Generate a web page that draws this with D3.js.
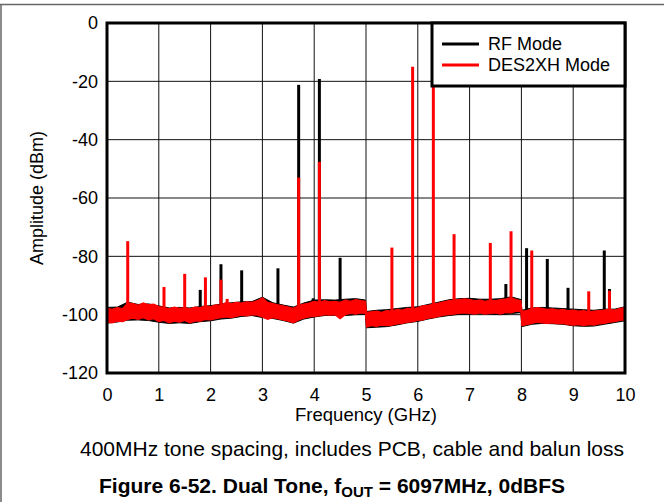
<!DOCTYPE html>
<html>
<head>
<meta charset="utf-8">
<script src="https://d3js.org/d3.v7.min.js"></script>
<style>
  body { margin: 0; background: #fff; }
  svg { display: block; font-family: "Liberation Sans", Arial, sans-serif; }
</style>
</head>
<body>
<svg id="chart" width="664" height="502"></svg>
<script>
// tick labels
var xTicks = [0, 1, 2, 3, 4, 5, 6, 7, 8, 9, 10];
var yTicks = [0, -20, -40, -60, -80, -100, -120];

// noise floor, red trace (DES2XH Mode) upper / lower edge of the band
var redFloorFreq = [0, 0.1, 0.2, 0.3, 0.4, 0.5, 0.6, 0.7, 0.8, 0.9,
    1.0, 1.1, 1.2, 1.3, 1.4, 1.5, 1.6, 1.7, 1.8, 1.9,
    2.0, 2.1, 2.2, 2.3, 2.4, 2.5, 2.6, 2.7, 2.8, 2.9,
    3.0, 3.1, 3.2, 3.3, 3.4, 3.5, 3.6, 3.7, 3.8, 3.9,
    4.0, 4.1, 4.2, 4.3, 4.4, 4.5, 4.6, 4.7, 4.8, 4.9, 4.99,
    5.01, 5.1, 5.2, 5.3, 5.4, 5.5, 5.6, 5.7, 5.8, 5.9,
    6.0, 6.1, 6.2, 6.3, 6.4, 6.5, 6.6, 6.7, 6.8, 6.9,
    7.0, 7.1, 7.2, 7.3, 7.4, 7.5, 7.6, 7.7, 7.8, 7.9, 7.99,
    8.01, 8.1, 8.2, 8.3, 8.4, 8.5, 8.6, 8.7, 8.8, 8.9,
    9.0, 9.1, 9.2, 9.3, 9.4, 9.5, 9.6, 9.7, 9.8, 9.9, 10.0];
var redFloorHigh = [-97.8, -98.2, -97.6, -97.9, -96.0, -96.2, -96.8, -96.0, -96.6, -96.4,
    -97.2, -97.6, -98.0, -97.4, -97.8, -97.6, -98.0, -97.4, -97.6, -97.0,
    -97.2, -96.6, -96.8, -95.8, -96.2, -95.8, -96.0, -95.6, -95.8, -95.2,
    -94.2, -95.8, -96.2, -96.6, -97.0, -97.4, -97.8, -96.8, -96.4, -96.0,
    -95.4, -95.8, -95.2, -95.6, -95.4, -95.8, -95.0, -95.4, -94.8, -95.2, -95.4,
    -99.2, -99.0, -98.8, -99.2, -98.6, -98.8, -98.2, -98.4, -97.8, -98.0,
    -97.6, -97.0, -96.8, -96.4, -96.0, -95.6, -95.2, -95.0, -94.8, -94.6,
    -94.8, -95.2, -95.0, -95.4, -95.0, -95.2, -94.8, -94.6, -94.2, -94.8, -95.2,
    -98.8, -98.6, -98.0, -97.6, -97.8, -98.2, -98.0, -98.4, -98.2, -98.6,
    -98.4, -98.8, -98.6, -99.0, -98.8, -98.6, -98.4, -98.2, -98.4, -97.8, -97.6];
var redFloorLow = [-102.6, -102.8, -102.2, -102.4, -101.6, -101.2, -101.6, -101.0, -101.8, -101.4,
    -102.4, -102.0, -102.8, -102.2, -102.6, -102.0, -102.8, -102.2, -102.2, -101.6,
    -101.8, -101.4, -101.0, -100.8, -101.0, -100.6, -100.2, -100.4, -100.0, -100.2,
    -100.8, -101.6, -101.0, -101.4, -101.8, -102.2, -102.8, -101.8, -101.2, -100.8,
    -100.6, -100.4, -100.0, -100.2, -100.0, -101.4, -100.0, -99.6, -99.8, -99.4, -99.6,
    -104.2, -103.8, -104.0, -103.6, -103.8, -103.6, -103.2, -103.0, -102.6, -102.4,
    -102.0, -101.8, -101.2, -101.0, -100.6, -100.2, -100.0, -99.8, -99.6, -99.4,
    -99.6, -99.8, -99.4, -99.8, -99.6, -99.4, -99.8, -99.2, -99.4, -98.8, -99.0,
    -103.8, -103.4, -103.0, -102.6, -102.8, -103.0, -102.8, -103.2, -103.0, -103.4,
    -103.6, -103.4, -103.8, -103.4, -103.6, -103.2, -103.0, -102.6, -102.4, -102.0, -101.8];

// noise floor, black trace (RF Mode), mostly hidden under the red one
var blackFloorFreq = [0, 0.2, 0.4, 0.6, 0.8, 1.0, 1.2, 1.4, 1.6, 1.8,
    2.0, 2.2, 2.4, 2.6, 2.8, 3.0, 3.2, 3.4, 3.6, 3.8,
    4.0, 4.2, 4.4, 4.6, 4.8, 4.99, 5.01, 5.2, 5.4, 5.6, 5.8,
    6.0, 6.2, 6.4, 6.6, 6.8, 7.0, 7.2, 7.4, 7.6, 7.8, 7.99,
    8.01, 8.2, 8.4, 8.6, 8.8, 9.0, 9.2, 9.4, 9.6, 9.8, 10.0];
var blackFloorHigh = [-97.5, -97.4, -95.7, -96.5, -96.3, -97.0, -97.7, -97.5, -97.7, -97.2,
    -96.9, -96.4, -95.9, -95.6, -95.5, -94.0, -95.9, -96.7, -97.4, -96.0,
    -95.0, -94.9, -95.0, -94.7, -94.5, -95.0, -98.9, -98.5, -98.3, -97.9, -97.5,
    -97.3, -96.5, -95.7, -94.9, -94.5, -94.4, -94.7, -94.7, -94.5, -93.9, -94.8,
    -98.5, -97.7, -97.5, -97.7, -97.9, -98.1, -98.3, -98.5, -98.1, -98.1, -97.3];
var blackFloorLow = [-102.9, -102.5, -101.9, -101.8, -102.0, -102.6, -103.0, -102.8, -103.0, -102.4,
    -102.1, -101.5, -101.2, -100.6, -100.3, -101.0, -101.3, -102.0, -102.9, -101.5,
    -100.8, -100.3, -100.2, -100.3, -100.0, -99.9, -104.5, -104.3, -104.1, -103.5, -102.8,
    -102.3, -101.5, -100.8, -100.3, -99.9, -99.8, -99.7, -99.8, -100.0, -99.6, -99.3,
    -104.1, -103.3, -103.0, -103.1, -103.3, -103.8, -104.0, -103.9, -103.3, -102.7, -102.1];

// spurs / tones : frequency (GHz) and peak (dBm)
var rfSpurFreq = [1.8, 2.2, 2.6, 3.3, 3.7, 3.98, 4.1, 4.5, 7.7, 8.1, 8.5, 8.9, 9.6, 9.7];
var rfSpurPeak = [-91.5, -82.7, -84.8, -84.1, -21.2, -94.4, -19.2, -80.5, -89.5, -77.2, -80.9, -90.8, -78.0, -91.2];

var desSpurFreq = [0.4, 1.1, 1.5, 1.9, 2.2, 2.32, 3.7, 4.1, 5.5, 5.9, 6.3, 6.7, 7.4, 7.8, 8.2, 9.3, 9.7];
var desSpurPeak = [-74.8, -90.5, -86.0, -87.2, -88.0, -94.6, -53.0, -47.6, -77.0, -15.0, -15.5, -72.4, -75.4, -71.4, -78.0, -92.0, -91.8];

var seriesNames = ["RF Mode", "DES2XH Mode"];
var seriesColors = ["#000000", "#ff0000"];

drawChart();

function drawChart() {
    var svg = d3.select("#chart");
    var left = 107, right = 625, top = 23, bottom = 373;

    var x = d3.scaleLinear().domain([0, 10]).range([left, right]);
    var y = d3.scaleLinear().domain([-120, 0]).range([bottom, top]);

    // page frame lines (top + left edge)
    svg.append("line").attr("x1", 0).attr("x2", 664).attr("y1", 4.5).attr("y2", 4.5)
        .attr("stroke", "#666").attr("stroke-width", 1.5);
    svg.append("line").attr("x1", 1).attr("x2", 1).attr("y1", 4.5).attr("y2", 502)
        .attr("stroke", "#666").attr("stroke-width", 1.5);

    // grid
    var grid = svg.append("g").attr("stroke", "#111").attr("stroke-width", 1);
    grid.selectAll(".vg").data(xTicks).enter().append("line")
        .attr("x1", d => x(d)).attr("x2", d => x(d))
        .attr("y1", top).attr("y2", bottom);
    grid.selectAll(".hg").data(yTicks).enter().append("line")
        .attr("x1", left).attr("x2", right)
        .attr("y1", d => y(d)).attr("y2", d => y(d));

    var plot = svg.append("g");

    // noise band
    function band(freq, hi, lo) {
        return d3.area()
            .x((d, i) => x(freq[i]))
            .y0((d, i) => y(lo[i]))
            .y1((d, i) => y(hi[i]))(freq);
    }
    function spurs(g, freq, peak, color) {
        g.selectAll(null).data(freq).enter().append("line")
            .attr("x1", d => x(d)).attr("x2", d => x(d))
            .attr("y1", (d, i) => y(peak[i]))
            .attr("y2", y(-99))
            .attr("stroke", color)
            .attr("stroke-width", 3);
    }

    // black (RF Mode) first, red drawn over it
    plot.append("path").attr("d", band(blackFloorFreq, blackFloorHigh, blackFloorLow))
        .attr("fill", seriesColors[0]).attr("stroke", seriesColors[0]).attr("stroke-width", 1);
    spurs(plot.append("g"), rfSpurFreq, rfSpurPeak, seriesColors[0]);

    plot.append("path").attr("d", band(redFloorFreq, redFloorHigh, redFloorLow))
        .attr("fill", seriesColors[1]).attr("stroke", seriesColors[1]).attr("stroke-width", 1.2);
    spurs(plot.append("g"), desSpurFreq, desSpurPeak, seriesColors[1]);

    // axes (labels only), plain hyphen for negatives
    var xAxis = svg.append("g").attr("transform", "translate(0," + bottom + ")")
        .call(d3.axisBottom(x).tickValues(xTicks).tickSize(0).tickPadding(15).tickFormat(d => String(d)));
    var yAxis = svg.append("g").attr("transform", "translate(" + left + ",0)")
        .call(d3.axisLeft(y).tickValues(yTicks).tickSize(0).tickPadding(9).tickFormat(d => String(d)));
    [xAxis, yAxis].forEach(function(a) {
        a.select(".domain").remove();
        a.selectAll("text").attr("font-size", 18).attr("fill", "#000")
            .attr("font-family", "Liberation Sans, Arial, sans-serif");
    });

    // plot border
    svg.append("rect").attr("x", left).attr("y", top)
        .attr("width", right - left).attr("height", bottom - top)
        .attr("fill", "none").attr("stroke", "#000").attr("stroke-width", 3);

    // legend
    var lg = svg.append("g");
    lg.append("rect").attr("x", 432).attr("y", top).attr("width", right - 432).attr("height", 63)
        .attr("fill", "#fff").attr("stroke", "#000").attr("stroke-width", 3);
    seriesNames.forEach(function(name, i) {
        var ly = 44 + i * 21;
        lg.append("line").attr("x1", 442).attr("x2", 479).attr("y1", ly).attr("y2", ly)
            .attr("stroke", seriesColors[i]).attr("stroke-width", 3);
        lg.append("text").attr("x", 488).attr("y", ly + 6).attr("font-size", 18).text(name);
    });

    // axis titles
    svg.append("text").attr("x", 366).attr("y", 421).attr("text-anchor", "middle")
        .attr("font-size", 18.5).text("Frequency (GHz)");
    svg.append("text").attr("transform", "translate(43,198) rotate(-90)")
        .attr("text-anchor", "middle").attr("font-size", 18).text("Amplitude (dBm)");

    // caption + figure title
    svg.append("text").attr("x", 352).attr("y", 456).attr("text-anchor", "middle")
        .attr("font-size", 21).text("400MHz tone spacing, includes PCB, cable and balun loss");

    var title = svg.append("text").attr("x", 332).attr("y", 493).attr("text-anchor", "middle")
        .attr("font-size", 21).attr("font-weight", "bold");
    title.append("tspan").text("Figure 6-52. Dual Tone, f");
    title.append("tspan").attr("font-size", 15).attr("dy", 4).text("OUT");
    title.append("tspan").attr("dy", -4).text(" = 6097MHz, 0dBFS");
}
</script>
</body>
</html>
